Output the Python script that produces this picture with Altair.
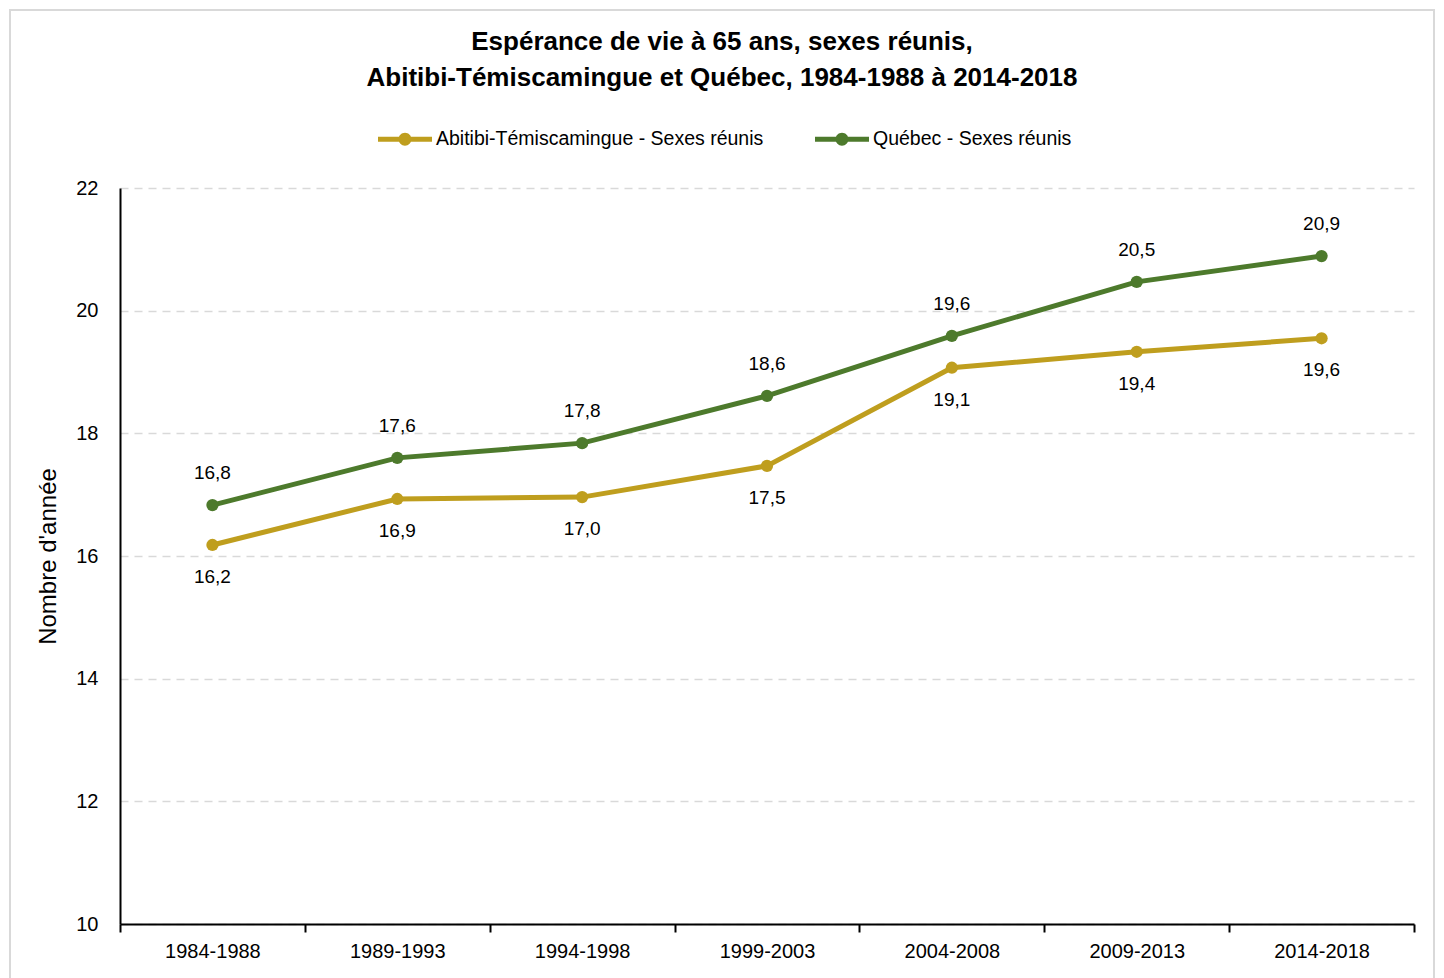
import altair as alt
import pandas as pd

periodes = ["1984-1988", "1989-1993", "1994-1998", "1999-2003", "2004-2008", "2009-2013", "2014-2018"]
abitibi = [16.18, 16.93, 16.96, 17.47, 19.07, 19.33, 19.55]
abitibi_labels = ["16,2", "16,9", "17,0", "17,5", "19,1", "19,4", "19,6"]
quebec = [16.83, 17.60, 17.84, 18.61, 19.59, 20.47, 20.89]
quebec_labels = ["16,8", "17,6", "17,8", "18,6", "19,6", "20,5", "20,9"]
series = ["Abitibi-Témiscamingue - Sexes réunis", "Québec - Sexes réunis"]
colors = ["#BF9E1E", "#4D7A2C"]

FONT = "Liberation Sans, Arial, sans-serif"

rows = []
for p, v, l in zip(periodes, abitibi, abitibi_labels):
    rows.append({"periode": p, "serie": series[0], "valeur": v, "etiquette": l, "pos": "below"})
for p, v, l in zip(periodes, quebec, quebec_labels):
    rows.append({"periode": p, "serie": series[1], "valeur": v, "etiquette": l, "pos": "above"})
df = pd.DataFrame(rows)

x = alt.X(
    "periode:N", sort=periodes, bandPosition=0.5,
    scale=alt.Scale(type="band", paddingInner=0, paddingOuter=0),
    axis=alt.Axis(title=None, labelAngle=0, tickBand="extent", tickSize=8,
                  tickWidth=2, tickColor="#000000", domainColor="#000000",
                  domainWidth=2, labelPadding=9, labelFontSize=20,
                  labelColor="#000000", grid=False),
)
y = alt.Y(
    "valeur:Q",
    scale=alt.Scale(domain=[10, 22], nice=False, zero=False),
    axis=alt.Axis(title="Nombre d'année", values=[10, 12, 14, 16, 18, 20, 22],
                  ticks=False, domainColor="#000000", domainWidth=2,
                  labelPadding=22, labelFontSize=20, labelColor="#000000",
                  titleFontSize=24, titleFontWeight="normal", titleColor="#000000",
                  titlePadding=15, grid=True, gridColor="#d9d9d9",
                  gridDash=[8, 6], gridWidth=1.5),
)
color = alt.Color(
    "serie:N", sort=series,
    scale=alt.Scale(domain=series, range=colors),
    legend=alt.Legend(
        title=None, orient="none", direction="horizontal", legendX=258, legendY=-76,
        symbolType="M-1,-0.09L1,-0.09L1,0.09L-1,0.09Z M-0.24,0A0.24,0.24,0,1,1,0.24,0A0.24,0.24,0,1,1,-0.24,0Z",
        symbolSize=2916, symbolStrokeWidth=0, labelFontSize=19.5, labelColor="#000000",
        labelOffset=4, columnPadding=51, labelLimit=500,
    ),
)

base = alt.Chart(df)
lines = base.mark_line(strokeWidth=5).encode(x=x, y=y, color=color)
points = base.mark_point(filled=True, size=150, opacity=1).encode(x=x, y=y, color=color)
lab_above = base.transform_filter(alt.datum.pos == "above").mark_text(
    dy=-32, fontSize=19, color="#000000").encode(x=x, y=y, text="etiquette:N")
lab_below = base.transform_filter(alt.datum.pos == "below").mark_text(
    dy=32, fontSize=19, color="#000000").encode(x=x, y=y, text="etiquette:N")

frame = alt.Chart(pd.DataFrame({"a": [0]})).mark_rect(
    fill="transparent", stroke="#d9d9d9", strokeWidth=2).encode(
    x=alt.value(-110), x2=alt.value(1314), y=alt.value(-178), y2=alt.value(800))

chart = alt.layer(frame, lines, points, lab_above, lab_below).properties(
    width=1294, height=736,
    autosize=alt.AutoSizeParams(type="none"),
    padding={"left": 112, "top": 180, "right": 22, "bottom": 54},
    title=alt.TitleParams(
        text=["Espérance de vie à 65 ans, sexes réunis,",
              "Abitibi-Témiscamingue et Québec, 1984-1988 à 2014-2018"],
        fontSize=26, fontWeight="bold", anchor="middle", dx=-45, offset=0, dy=82,
        lineHeight=36, color="#000000"),
).configure(font=FONT).configure_view(stroke=None)

chart.save("out.html", embed_options={"renderer": "svg", "actions": False})
